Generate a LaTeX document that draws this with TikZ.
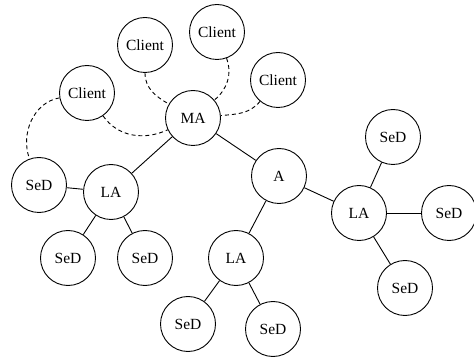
\documentclass[tikz,border=0pt]{standalone}
\usepackage{fontspec}
\setmainfont{Liberation Serif}
\begin{document}
\begin{tikzpicture}[x=1pt,y=-1pt,
  agent/.style={circle,draw,line width=0.9pt,minimum size=55pt,inner sep=0pt,font=\fontsize{15.5}{18}\selectfont},
  link/.style={line width=0.9pt},
  dlink/.style={line width=0.9pt,dashed,dash pattern=on 4pt off 3pt}]
\useasboundingbox (0,0) rectangle (474,358);
\node[agent] (c1) at (145,45) {Client};
\node[agent] (c2) at (217,32) {Client};
\node[agent] (c3) at (278,80) {Client};
\node[agent] (c4) at (87,93) {Client};
\node[agent] (ma) at (193,118) {MA};
\node[agent] (a) at (279,176) {A};
\node[agent] (lar) at (359,213) {LA};
\node[agent] (s1) at (393,137) {SeD};
\node[agent] (s2) at (449,213) {SeD};
\node[agent] (s3) at (405,288) {SeD};
\node[agent] (sl) at (39,185) {SeD};
\node[agent] (lal) at (111,192) {LA};
\node[agent] (s4) at (68,258) {SeD};
\node[agent] (s5) at (145,258) {SeD};
\node[agent] (lab) at (236,258) {LA};
\node[agent] (s6) at (188,324) {SeD};
\node[agent] (s7) at (273,329) {SeD};
\draw[link] (ma) -- (lal);
\draw[link] (ma) -- (a);
\draw[link] (a) -- (lar);
\draw[link] (a) -- (lab);
\draw[link] (lar) -- (s1);
\draw[link] (lar) -- (s2);
\draw[link] (lar) -- (s3);
\draw[link] (lal) -- (sl);
\draw[link] (lal) -- (s4);
\draw[link] (lal) -- (s5);
\draw[link] (lab) -- (s6);
\draw[link] (lab) -- (s7);
\draw[dlink] (c4) to[out=190,in=110] (sl);
\draw[dlink] (c4) to[out=305,in=205] (ma);
\draw[dlink] (c1) to[out=270,in=150] (ma);
\draw[dlink] (c2) to[out=290,in=40] (ma);
\draw[dlink] (c3) to[out=230,in=5] (ma);
\end{tikzpicture}
\end{document}
